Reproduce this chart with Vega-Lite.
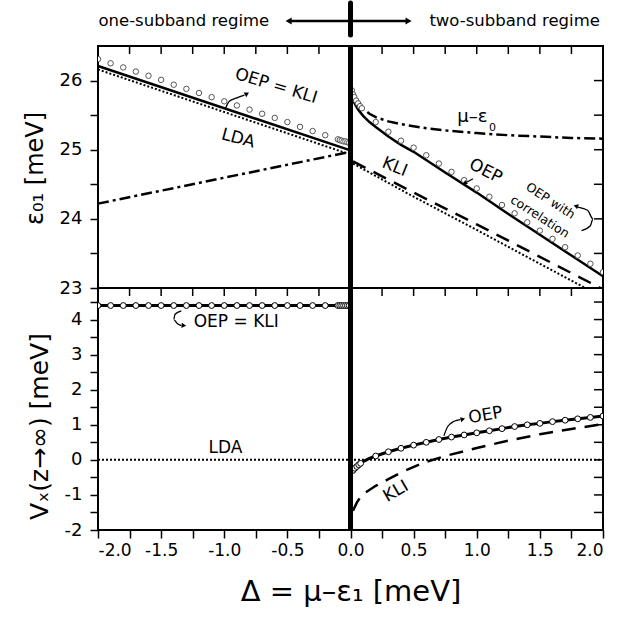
{
  "$schema": "https://vega.github.io/schema/vega-lite/v6.json",
  "padding": {"left": 22, "top": 0, "right": 0, "bottom": 0},
  "spacing": 0,
  "bounds": "flush",
  "config": {
    "font": "DejaVu Sans",
    "view": {"stroke": "black", "strokeWidth": 2},
    "axis": {"labelFont": "DejaVu Sans", "labelFontSize": 18, "labelColor": "black", "tickColor": "black", "tickWidth": 1.5, "domain": false, "grid": false, "titleFont": "DejaVu Sans", "titleColor": "black", "titleFontWeight": "normal"},
    "text": {"font": "DejaVu Sans", "color": "black"}
  },
  "datasets": {
    "xticks": [{"t": -2}, {"t": -1.75}, {"t": -1.5}, {"t": -1.25}, {"t": -1}, {"t": -0.75}, {"t": -0.5}, {"t": -0.25}, {"t": 0}, {"t": 0.25}, {"t": 0.5}, {"t": 0.75}, {"t": 1}, {"t": 1.25}, {"t": 1.5}, {"t": 1.75}, {"t": 2}],
    "yticks_top": [{"t": 23.5}, {"t": 24}, {"t": 24.5}, {"t": 25}, {"t": 25.5}, {"t": 26}],
    "yticks_bot": [{"t": -1.5}, {"t": -1}, {"t": -0.5}, {"t": 0}, {"t": 0.5}, {"t": 1}, {"t": 1.5}, {"t": 2}, {"t": 2.5}, {"t": 3}, {"t": 3.5}, {"t": 4}, {"t": 4.5}],
    "top_solid": [
      {"s": "L", "x": -2, "y": 26.21}, {"s": "L", "x": 0, "y": 24.99},
      {"s": "R", "x": 0.01, "y": 25.8}, {"s": "R", "x": 0.03, "y": 25.68}, {"s": "R", "x": 0.06, "y": 25.58}, {"s": "R", "x": 0.1, "y": 25.49}, {"s": "R", "x": 0.15, "y": 25.4}, {"s": "R", "x": 0.2, "y": 25.33}, {"s": "R", "x": 0.3, "y": 25.19}, {"s": "R", "x": 0.4, "y": 25.07}, {"s": "R", "x": 0.5, "y": 24.97}, {"s": "R", "x": 0.75, "y": 24.67}, {"s": "R", "x": 1.0, "y": 24.38}, {"s": "R", "x": 1.25, "y": 24.07}, {"s": "R", "x": 1.5, "y": 23.77}, {"s": "R", "x": 1.75, "y": 23.47}, {"s": "R", "x": 2.0, "y": 23.17}
    ],
    "top_lda": [
      {"s": "L", "x": -2, "y": 26.16}, {"s": "L", "x": 0, "y": 24.93},
      {"s": "R", "x": 0.02, "y": 24.8}, {"s": "R", "x": 0.5, "y": 24.32}, {"s": "R", "x": 1.0, "y": 23.84}, {"s": "R", "x": 1.5, "y": 23.35}, {"s": "R", "x": 1.86, "y": 23.0}
    ],
    "top_kli": [
      {"x": 0.02, "y": 24.83}, {"x": 0.5, "y": 24.38}, {"x": 1.0, "y": 23.92}, {"x": 1.5, "y": 23.45}, {"x": 1.98, "y": 23.0}
    ],
    "top_dashdot": [
      {"s": "L", "x": -2, "y": 24.22}, {"s": "L", "x": 0, "y": 24.97},
      {"s": "R", "x": 0.02, "y": 25.78}, {"s": "R", "x": 0.05, "y": 25.68}, {"s": "R", "x": 0.1, "y": 25.59}, {"s": "R", "x": 0.15, "y": 25.52}, {"s": "R", "x": 0.2, "y": 25.47}, {"s": "R", "x": 0.3, "y": 25.41}, {"s": "R", "x": 0.4, "y": 25.37}, {"s": "R", "x": 0.6, "y": 25.31}, {"s": "R", "x": 0.8, "y": 25.27}, {"s": "R", "x": 1.0, "y": 25.24}, {"s": "R", "x": 1.25, "y": 25.21}, {"s": "R", "x": 1.5, "y": 25.19}, {"s": "R", "x": 1.75, "y": 25.17}, {"s": "R", "x": 2.0, "y": 25.16}
    ],
    "top_circles": [
      {"x": -2.0, "y": 26.31}, {"x": -1.9, "y": 26.25}, {"x": -1.8, "y": 26.19}, {"x": -1.7, "y": 26.13}, {"x": -1.6, "y": 26.07}, {"x": -1.5, "y": 26.01}, {"x": -1.4, "y": 25.94}, {"x": -1.3, "y": 25.88}, {"x": -1.2, "y": 25.82}, {"x": -1.1, "y": 25.76}, {"x": -1.0, "y": 25.7}, {"x": -0.9, "y": 25.64}, {"x": -0.8, "y": 25.58}, {"x": -0.7, "y": 25.52}, {"x": -0.6, "y": 25.46}, {"x": -0.5, "y": 25.4}, {"x": -0.4, "y": 25.33}, {"x": -0.3, "y": 25.27}, {"x": -0.2, "y": 25.21}, {"x": -0.1, "y": 25.15},
      {"x": -0.085, "y": 25.14}, {"x": -0.07, "y": 25.13}, {"x": -0.055, "y": 25.12}, {"x": -0.04, "y": 25.12}, {"x": -0.025, "y": 25.11}, {"x": -0.01, "y": 25.1},
      {"x": 0.01, "y": 25.86}, {"x": 0.02, "y": 25.8}, {"x": 0.03, "y": 25.76}, {"x": 0.045, "y": 25.71}, {"x": 0.06, "y": 25.67}, {"x": 0.075, "y": 25.63}, {"x": 0.09, "y": 25.6},
      {"x": 0.2, "y": 25.4}, {"x": 0.3, "y": 25.26}, {"x": 0.4, "y": 25.13}, {"x": 0.5, "y": 25.03}, {"x": 0.6, "y": 24.92}, {"x": 0.7, "y": 24.8}, {"x": 0.8, "y": 24.68}, {"x": 0.9, "y": 24.56}, {"x": 1.0, "y": 24.44}, {"x": 1.1, "y": 24.32}, {"x": 1.2, "y": 24.2}, {"x": 1.3, "y": 24.08}, {"x": 1.4, "y": 23.95}, {"x": 1.5, "y": 23.83}, {"x": 1.6, "y": 23.71}, {"x": 1.7, "y": 23.59}, {"x": 1.8, "y": 23.47}, {"x": 1.9, "y": 23.35}, {"x": 2.0, "y": 23.23}
    ],
    "bot_oep": [
      {"s": "L", "x": -2, "y": 4.4}, {"s": "L", "x": 0, "y": 4.4},
      {"s": "R", "x": 0.01, "y": -0.35}, {"s": "R", "x": 0.03, "y": -0.25}, {"s": "R", "x": 0.05, "y": -0.17}, {"s": "R", "x": 0.1, "y": -0.05}, {"s": "R", "x": 0.15, "y": 0.04}, {"s": "R", "x": 0.2, "y": 0.11}, {"s": "R", "x": 0.3, "y": 0.23}, {"s": "R", "x": 0.4, "y": 0.33}, {"s": "R", "x": 0.5, "y": 0.42}, {"s": "R", "x": 0.6, "y": 0.5}, {"s": "R", "x": 0.7, "y": 0.58}, {"s": "R", "x": 0.8, "y": 0.65}, {"s": "R", "x": 0.9, "y": 0.71}, {"s": "R", "x": 1.0, "y": 0.77}, {"s": "R", "x": 1.1, "y": 0.83}, {"s": "R", "x": 1.2, "y": 0.89}, {"s": "R", "x": 1.3, "y": 0.95}, {"s": "R", "x": 1.4, "y": 1.0}, {"s": "R", "x": 1.5, "y": 1.04}, {"s": "R", "x": 1.6, "y": 1.09}, {"s": "R", "x": 1.7, "y": 1.13}, {"s": "R", "x": 1.8, "y": 1.17}, {"s": "R", "x": 1.9, "y": 1.21}, {"s": "R", "x": 2.0, "y": 1.25}
    ],
    "bot_circles": [
      {"x": -2.0, "y": 4.4}, {"x": -1.9, "y": 4.4}, {"x": -1.8, "y": 4.4}, {"x": -1.7, "y": 4.4}, {"x": -1.6, "y": 4.4}, {"x": -1.5, "y": 4.4}, {"x": -1.4, "y": 4.4}, {"x": -1.3, "y": 4.4}, {"x": -1.2, "y": 4.4}, {"x": -1.1, "y": 4.4}, {"x": -1.0, "y": 4.4}, {"x": -0.9, "y": 4.4}, {"x": -0.8, "y": 4.4}, {"x": -0.7, "y": 4.4}, {"x": -0.6, "y": 4.4}, {"x": -0.5, "y": 4.4}, {"x": -0.4, "y": 4.4}, {"x": -0.3, "y": 4.4}, {"x": -0.2, "y": 4.4}, {"x": -0.1, "y": 4.4},
      {"x": -0.085, "y": 4.4}, {"x": -0.07, "y": 4.4}, {"x": -0.055, "y": 4.4}, {"x": -0.04, "y": 4.4}, {"x": -0.025, "y": 4.4}, {"x": -0.01, "y": 4.4},
      {"x": 0.02, "y": -0.3}, {"x": 0.035, "y": -0.24}, {"x": 0.05, "y": -0.19}, {"x": 0.065, "y": -0.14}, {"x": 0.08, "y": -0.1},
      {"x": 0.2, "y": 0.11}, {"x": 0.3, "y": 0.23}, {"x": 0.4, "y": 0.33}, {"x": 0.5, "y": 0.42}, {"x": 0.6, "y": 0.5}, {"x": 0.7, "y": 0.58}, {"x": 0.8, "y": 0.65}, {"x": 0.9, "y": 0.71}, {"x": 1.0, "y": 0.77}, {"x": 1.1, "y": 0.83}, {"x": 1.2, "y": 0.89}, {"x": 1.3, "y": 0.95}, {"x": 1.4, "y": 1.0}, {"x": 1.5, "y": 1.04}, {"x": 1.6, "y": 1.09}, {"x": 1.7, "y": 1.13}, {"x": 1.8, "y": 1.17}, {"x": 1.9, "y": 1.21}, {"x": 2.0, "y": 1.25}
    ],
    "bot_lda": [{"x": -2, "y": 0}, {"x": 2, "y": 0}],
    "bot_kli": [
      {"x": 0.02, "y": -1.45}, {"x": 0.05, "y": -1.22}, {"x": 0.09, "y": -1.0}, {"x": 0.2, "y": -0.74}, {"x": 0.3, "y": -0.55}, {"x": 0.4, "y": -0.36}, {"x": 0.58, "y": -0.08}, {"x": 0.75, "y": 0.11}, {"x": 1.0, "y": 0.34}, {"x": 1.25, "y": 0.55}, {"x": 1.5, "y": 0.73}, {"x": 1.75, "y": 0.88}, {"x": 2.0, "y": 1.02}
    ],
    "arrows_top": [
      {"a": "A", "i": 1, "x": -0.99, "y": 25.6}, {"a": "A", "i": 2, "x": -0.96, "y": 25.7}, {"a": "A", "i": 3, "x": -0.9, "y": 25.75}, {"a": "A", "i": 4, "x": -0.84, "y": 25.79},
      {"a": "B", "i": 1, "x": 0.97, "y": 24.58}, {"a": "B", "i": 2, "x": 0.92, "y": 24.53},
      {"a": "C", "i": 1, "x": 1.8, "y": 24.17}, {"a": "C", "i": 2, "x": 1.88, "y": 24.12}, {"a": "C", "i": 3, "x": 1.92, "y": 24.0}, {"a": "C", "i": 4, "x": 1.9, "y": 23.9}, {"a": "C", "i": 5, "x": 1.83, "y": 23.83}
    ],
    "arrows_bot": [
      {"a": "A", "i": 1, "x": -1.34, "y": 4.25}, {"a": "A", "i": 2, "x": -1.39, "y": 4.15}, {"a": "A", "i": 3, "x": -1.4, "y": 4.0}, {"a": "A", "i": 4, "x": -1.37, "y": 3.88}, {"a": "A", "i": 5, "x": -1.34, "y": 3.83},
      {"a": "B", "i": 1, "x": 0.74, "y": 0.69}, {"a": "B", "i": 2, "x": 0.77, "y": 0.95}, {"a": "B", "i": 3, "x": 0.82, "y": 1.1}, {"a": "B", "i": 4, "x": 0.87, "y": 1.15}
    ]
  },
  "vconcat": [
    {
      "width": 505, "height": 46,
      "view": {"stroke": null},
      "layer": [
        {
          "data": {"values": [{"x": -1.32, "v": 21, "t": "one-subband regime"}, {"x": 1.3, "v": 21, "t": "two-subband regime"}]},
          "mark": {"type": "text", "fontSize": 16.5, "baseline": "middle"},
          "encoding": {
            "x": {"field": "x", "type": "quantitative", "scale": {"domain": [-2, 2], "nice": false, "zero": false}, "axis": null},
            "y": {"field": "v", "type": "quantitative", "scale": {"domain": [0, 46], "reverse": true, "nice": false, "zero": false}, "axis": null},
            "text": {"field": "t"}
          }
        },
        {
          "data": {"values": [{"x": -0.47, "x2": 0.45, "v": 21}]},
          "mark": {"type": "rule", "strokeWidth": 2.5, "color": "black"},
          "encoding": {
            "x": {"field": "x", "type": "quantitative"},
            "x2": {"field": "x2"},
            "y": {"field": "v", "type": "quantitative"}
          }
        },
        {
          "data": {"values": [{"x": 0, "v": 3, "v2": 35}]},
          "mark": {"type": "rule", "strokeWidth": 5, "color": "black", "strokeCap": "round"},
          "encoding": {
            "x": {"field": "x", "type": "quantitative"},
            "y": {"field": "v", "type": "quantitative"},
            "y2": {"field": "v2"}
          }
        },
        {
          "data": {"values": [{"x": -0.49, "v": 21}]},
          "mark": {"type": "point", "shape": "triangle-left", "filled": true, "color": "black", "size": 50, "opacity": 1},
          "encoding": {"x": {"field": "x", "type": "quantitative"}, "y": {"field": "v", "type": "quantitative"}}
        },
        {
          "data": {"values": [{"x": 0.46, "v": 21}]},
          "mark": {"type": "point", "shape": "triangle-right", "filled": true, "color": "black", "size": 50, "opacity": 1},
          "encoding": {"x": {"field": "x", "type": "quantitative"}, "y": {"field": "v", "type": "quantitative"}}
        }
      ]
    },
    {
      "width": 505, "height": 242,
      "resolve": {"axis": {"x": "independent", "y": "independent"}},
      "layer": [
        {
          "data": {"name": "top_solid"},
          "mark": {"type": "line", "strokeWidth": 2.5, "color": "black"},
          "encoding": {
            "x": {"field": "x", "type": "quantitative", "scale": {"domain": [-2, 2], "nice": false, "zero": false}, "axis": null},
            "y": {"field": "y", "type": "quantitative", "scale": {"domain": [23, 26.5], "nice": false, "zero": false},
              "axis": {"orient": "left", "values": [23, 23.5, 24, 24.5, 25, 25.5, 26], "labelExpr": "datum.value % 1 === 0 ? format(datum.value, 'd') : ''", "tickSize": 8, "labelPadding": 8, "title": "ε₀₁ [meV]", "titleFontSize": 24, "titlePadding": 12, "titleY": 122}},
            "detail": {"field": "s"}
          }
        },
        {
          "data": {"name": "xticks"},
          "mark": {"type": "tick", "orient": "vertical", "size": 8, "thickness": 1.5, "color": "black", "opacity": 1},
          "encoding": {
            "x": {"field": "t", "type": "quantitative", "axis": null},
            "y": {"datum": 26.442, "type": "quantitative", "axis": null}
          }
        },
        {
          "data": {"name": "yticks_top"},
          "mark": {"type": "tick", "orient": "horizontal", "size": 9, "thickness": 1.5, "color": "black", "opacity": 1},
          "encoding": {
            "y": {"field": "t", "type": "quantitative", "axis": null},
            "x": {"datum": 1.964, "type": "quantitative", "axis": null}
          }
        },
        {
          "data": {"name": "top_lda"},
          "mark": {"type": "line", "strokeWidth": 2, "color": "black", "strokeDash": [2, 2]},
          "encoding": {
            "x": {"field": "x", "type": "quantitative", "axis": null},
            "y": {"field": "y", "type": "quantitative", "axis": null},
            "detail": {"field": "s"}
          }
        },
        {
          "data": {"name": "top_kli"},
          "mark": {"type": "line", "strokeWidth": 2.5, "color": "black", "strokeDash": [14, 9]},
          "encoding": {
            "x": {"field": "x", "type": "quantitative", "axis": null},
            "y": {"field": "y", "type": "quantitative", "axis": null}
          }
        },
        {
          "data": {"name": "top_dashdot"},
          "mark": {"type": "line", "strokeWidth": 2.5, "color": "black", "strokeDash": [11, 4, 3, 4]},
          "encoding": {
            "x": {"field": "x", "type": "quantitative", "axis": null},
            "y": {"field": "y", "type": "quantitative", "axis": null},
            "detail": {"field": "s"}
          }
        },
        {
          "data": {"name": "top_circles"},
          "mark": {"type": "point", "shape": "circle", "size": 30, "filled": false, "fill": "white", "fillOpacity": 1, "stroke": "#555", "strokeWidth": 1, "opacity": 1, "clip": true},
          "encoding": {
            "x": {"field": "x", "type": "quantitative", "axis": null},
            "y": {"field": "y", "type": "quantitative", "axis": null}
          }
        },
        {
          "data": {"values": [{"x": 0}]},
          "mark": {"type": "rule", "strokeWidth": 5, "color": "black"},
          "encoding": {"x": {"field": "x", "type": "quantitative", "axis": null}}
        },
        {
          "data": {"name": "arrows_top"},
          "mark": {"type": "line", "strokeWidth": 1.3, "color": "black", "interpolate": "monotone"},
          "encoding": {
            "x": {"field": "x", "type": "quantitative", "axis": null},
            "y": {"field": "y", "type": "quantitative", "axis": null},
            "detail": {"field": "a"},
            "order": {"field": "i"}
          }
        },
        {
          "data": {"values": [{"x": -0.82, "y": 25.81}]},
          "mark": {"type": "point", "shape": "triangle-up", "filled": true, "color": "black", "size": 28, "angle": 60, "opacity": 1},
          "encoding": {"x": {"field": "x", "type": "quantitative", "axis": null}, "y": {"field": "y", "type": "quantitative", "axis": null}}
        },
        {
          "data": {"values": [{"x": 0.905, "y": 24.515}]},
          "mark": {"type": "point", "shape": "triangle-up", "filled": true, "color": "black", "size": 24, "angle": 235, "opacity": 1},
          "encoding": {"x": {"field": "x", "type": "quantitative", "axis": null}, "y": {"field": "y", "type": "quantitative", "axis": null}}
        },
        {
          "data": {"values": [{"x": 1.785, "y": 24.185}]},
          "mark": {"type": "point", "shape": "triangle-up", "filled": true, "color": "black", "size": 28, "angle": 290, "opacity": 1},
          "encoding": {"x": {"field": "x", "type": "quantitative", "axis": null}, "y": {"field": "y", "type": "quantitative", "axis": null}}
        },
        {
          "data": {"values": [{"x": -0.59, "y": 25.92, "t": "OEP = KLI"}]},
          "mark": {"type": "text", "fontSize": 17, "angle": 17},
          "encoding": {"x": {"field": "x", "type": "quantitative", "axis": null}, "y": {"field": "y", "type": "quantitative", "axis": null}, "text": {"field": "t"}}
        },
        {
          "data": {"values": [{"x": -0.89, "y": 25.16, "t": "LDA"}]},
          "mark": {"type": "text", "fontSize": 17, "angle": 15},
          "encoding": {"x": {"field": "x", "type": "quantitative", "axis": null}, "y": {"field": "y", "type": "quantitative", "axis": null}, "text": {"field": "t"}}
        },
        {
          "data": {"values": [{"x": 0.965, "y": 25.47, "t": "μ–ε"}]},
          "mark": {"type": "text", "fontSize": 18},
          "encoding": {"x": {"field": "x", "type": "quantitative", "axis": null}, "y": {"field": "y", "type": "quantitative", "axis": null}, "text": {"field": "t"}}
        },
        {
          "data": {"values": [{"x": 1.125, "y": 25.31, "t": "0"}]},
          "mark": {"type": "text", "fontSize": 11},
          "encoding": {"x": {"field": "x", "type": "quantitative", "axis": null}, "y": {"field": "y", "type": "quantitative", "axis": null}, "text": {"field": "t"}}
        },
        {
          "data": {"values": [{"x": 0.35, "y": 24.75, "t": "KLI"}]},
          "mark": {"type": "text", "fontSize": 17, "angle": 22},
          "encoding": {"x": {"field": "x", "type": "quantitative", "axis": null}, "y": {"field": "y", "type": "quantitative", "axis": null}, "text": {"field": "t"}}
        },
        {
          "data": {"values": [{"x": 1.07, "y": 24.69, "t": "OEP"}]},
          "mark": {"type": "text", "fontSize": 17, "angle": 27},
          "encoding": {"x": {"field": "x", "type": "quantitative", "axis": null}, "y": {"field": "y", "type": "quantitative", "axis": null}, "text": {"field": "t"}}
        },
        {
          "data": {"values": [{"x": 1.584, "y": 24.26, "t": "OEP with"}]},
          "mark": {"type": "text", "fontSize": 12.5, "angle": 33},
          "encoding": {"x": {"field": "x", "type": "quantitative", "axis": null}, "y": {"field": "y", "type": "quantitative", "axis": null}, "text": {"field": "t"}}
        },
        {
          "data": {"values": [{"x": 1.5, "y": 24.03, "t": "correlation"}]},
          "mark": {"type": "text", "fontSize": 12.5, "angle": 33},
          "encoding": {"x": {"field": "x", "type": "quantitative", "axis": null}, "y": {"field": "y", "type": "quantitative", "axis": null}, "text": {"field": "t"}}
        }
      ]
    },
    {
      "width": 505, "height": 242,
      "resolve": {"axis": {"x": "independent", "y": "independent"}},
      "layer": [
        {
          "data": {"name": "bot_oep"},
          "mark": {"type": "line", "strokeWidth": 3, "color": "black"},
          "encoding": {
            "x": {"field": "x", "type": "quantitative", "scale": {"domain": [-2, 2], "nice": false, "zero": false},
              "axis": {"orient": "bottom", "values": [-2, -1.75, -1.5, -1.25, -1, -0.75, -0.5, -0.25, 0, 0.25, 0.5, 0.75, 1, 1.25, 1.5, 1.75, 2], "labelExpr": "datum.value % 0.5 === 0 ? replace(format(datum.value, '.1f'), '−', '-') : ''", "labelFontSize": 17, "tickSize": 8, "labelPadding": 4, "title": "Δ = μ–ε₁ [meV]", "titleFontSize": 29, "titlePadding": 19}},
            "y": {"field": "y", "type": "quantitative", "scale": {"domain": [-2, 4.9], "nice": false, "zero": false},
              "axis": {"orient": "left", "values": [-2, -1.5, -1, -0.5, 0, 0.5, 1, 1.5, 2, 2.5, 3, 3.5, 4, 4.5], "labelExpr": "datum.value % 1 === 0 ? replace(format(datum.value, 'd'), '−', '-') : ''", "tickSize": 8, "labelPadding": 8, "title": "Vₓ(z→∞)  [meV]", "titleFontSize": 25, "titlePadding": 12, "titleY": 138}},
            "detail": {"field": "s"}
          }
        },
        {
          "data": {"name": "xticks"},
          "mark": {"type": "tick", "orient": "vertical", "size": 8, "thickness": 1.5, "color": "black", "opacity": 1},
          "encoding": {
            "x": {"field": "t", "type": "quantitative", "axis": null},
            "y": {"datum": 4.786, "type": "quantitative", "axis": null}
          }
        },
        {
          "data": {"name": "yticks_bot"},
          "mark": {"type": "tick", "orient": "horizontal", "size": 9, "thickness": 1.5, "color": "black", "opacity": 1},
          "encoding": {
            "y": {"field": "t", "type": "quantitative", "axis": null},
            "x": {"datum": 1.964, "type": "quantitative", "axis": null}
          }
        },
        {
          "data": {"name": "bot_lda"},
          "mark": {"type": "line", "strokeWidth": 2, "color": "black", "strokeDash": [2, 2]},
          "encoding": {
            "x": {"field": "x", "type": "quantitative", "axis": null},
            "y": {"field": "y", "type": "quantitative", "axis": null}
          }
        },
        {
          "data": {"name": "bot_kli"},
          "mark": {"type": "line", "strokeWidth": 2.5, "color": "black", "strokeDash": [14, 9]},
          "encoding": {
            "x": {"field": "x", "type": "quantitative", "axis": null},
            "y": {"field": "y", "type": "quantitative", "axis": null}
          }
        },
        {
          "data": {"name": "bot_circles"},
          "mark": {"type": "point", "shape": "circle", "size": 34, "filled": false, "fill": "white", "fillOpacity": 1, "stroke": "black", "strokeWidth": 1, "opacity": 1, "clip": true},
          "encoding": {
            "x": {"field": "x", "type": "quantitative", "axis": null},
            "y": {"field": "y", "type": "quantitative", "axis": null}
          }
        },
        {
          "data": {"values": [{"x": 0}]},
          "mark": {"type": "rule", "strokeWidth": 5, "color": "black"},
          "encoding": {"x": {"field": "x", "type": "quantitative", "axis": null}}
        },
        {
          "data": {"name": "arrows_bot"},
          "mark": {"type": "line", "strokeWidth": 1.3, "color": "black", "interpolate": "monotone"},
          "encoding": {
            "x": {"field": "x", "type": "quantitative", "axis": null},
            "y": {"field": "y", "type": "quantitative", "axis": null},
            "detail": {"field": "a"},
            "order": {"field": "i"}
          }
        },
        {
          "data": {"values": [{"x": -1.32, "y": 3.83}]},
          "mark": {"type": "point", "shape": "triangle-up", "filled": true, "color": "black", "size": 28, "angle": 95, "opacity": 1},
          "encoding": {"x": {"field": "x", "type": "quantitative", "axis": null}, "y": {"field": "y", "type": "quantitative", "axis": null}}
        },
        {
          "data": {"values": [{"x": 0.89, "y": 1.16}]},
          "mark": {"type": "point", "shape": "triangle-up", "filled": true, "color": "black", "size": 28, "angle": 75, "opacity": 1},
          "encoding": {"x": {"field": "x", "type": "quantitative", "axis": null}, "y": {"field": "y", "type": "quantitative", "axis": null}}
        },
        {
          "data": {"values": [{"x": -0.905, "y": 3.93, "t": "OEP = KLI"}]},
          "mark": {"type": "text", "fontSize": 17},
          "encoding": {"x": {"field": "x", "type": "quantitative", "axis": null}, "y": {"field": "y", "type": "quantitative", "axis": null}, "text": {"field": "t"}}
        },
        {
          "data": {"values": [{"x": -0.99, "y": 0.33, "t": "LDA"}]},
          "mark": {"type": "text", "fontSize": 17},
          "encoding": {"x": {"field": "x", "type": "quantitative", "axis": null}, "y": {"field": "y", "type": "quantitative", "axis": null}, "text": {"field": "t"}}
        },
        {
          "data": {"values": [{"x": 1.07, "y": 1.27, "t": "OEP"}]},
          "mark": {"type": "text", "fontSize": 17, "angle": -10},
          "encoding": {"x": {"field": "x", "type": "quantitative", "axis": null}, "y": {"field": "y", "type": "quantitative", "axis": null}, "text": {"field": "t"}}
        },
        {
          "data": {"values": [{"x": 0.36, "y": -0.9, "t": "KLI"}]},
          "mark": {"type": "text", "fontSize": 17, "angle": -30},
          "encoding": {"x": {"field": "x", "type": "quantitative", "axis": null}, "y": {"field": "y", "type": "quantitative", "axis": null}, "text": {"field": "t"}}
        }
      ]
    }
  ]
}
